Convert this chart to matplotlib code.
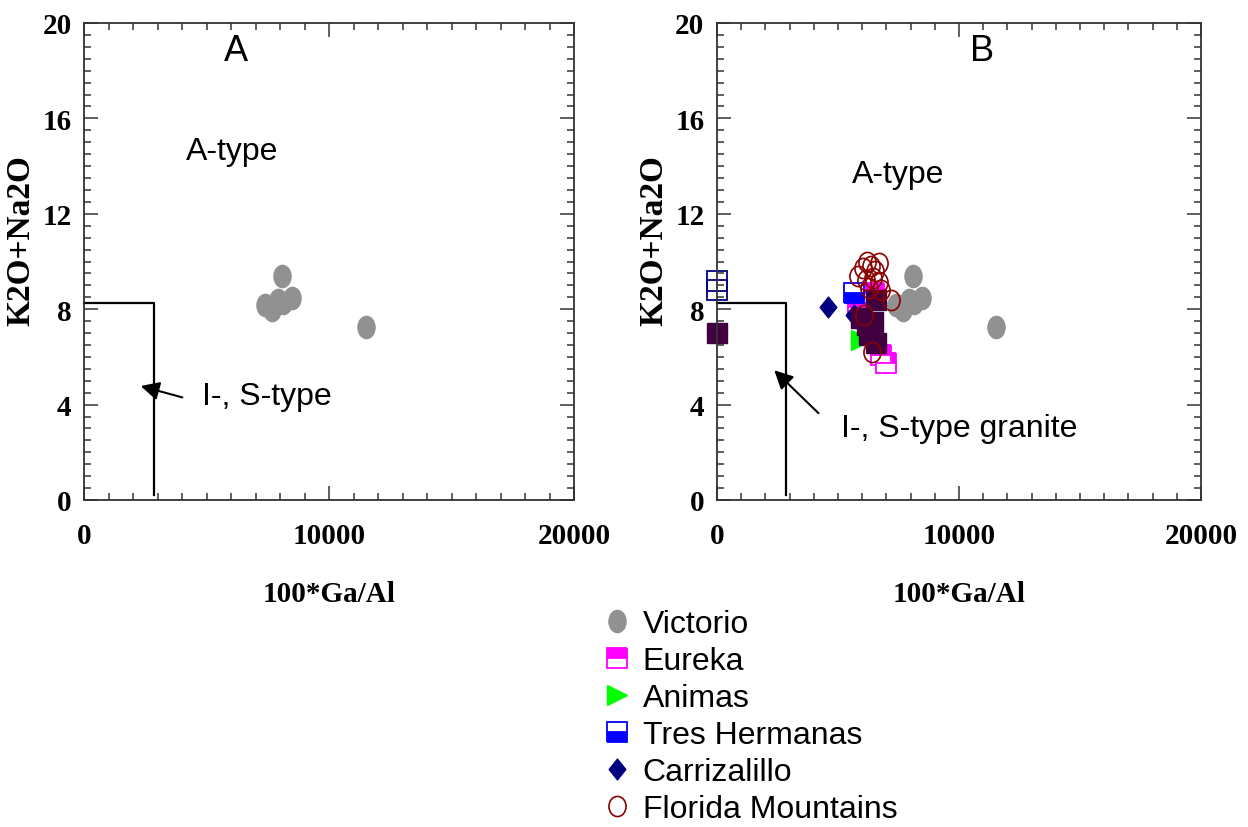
import numpy as np
import matplotlib
matplotlib.use('Agg')
import matplotlib.pyplot as plt
from matplotlib.path import Path
from matplotlib.transforms import Affine2D
from matplotlib.ticker import MultipleLocator

# --- data ------------------------------------------------------------------
victorio_x = [8082, 7388, 7674, 8490, 8123, 7919, 11510]
victorio_y = [9.41, 8.16, 7.95, 8.49, 8.24, 8.37, 7.24]

eureka_x = [6474, 5810, 6765, 6972]
eureka_y = [8.70, 8.08, 6.07, 5.73]

animas_x = [5935]
animas_y = [6.69]

tres_hermanas_x = [5644]
tres_hermanas_y = [8.66]

carrizalillo_x = [4607, 5644]
carrizalillo_y = [8.08, 7.74]

florida_x = [5810, 6018, 6184, 6350, 6516, 6682, 6142, 6433, 6682, 6267, 6765, 7180, 6059, 6391]
florida_y = [9.41, 9.71, 9.96, 9.83, 9.62, 9.92, 9.21, 9.29, 9.12, 8.87, 8.79, 8.37, 7.74, 6.19]

# points drawn without a legend entry
open_sq_x = [0, 0]
open_sq_y = [9.20, 8.79]
dark_sq_x = [6557, 5935, 6184, 6433, 6267, 6557, 0]
dark_sq_y = [8.37, 7.62, 7.32, 7.45, 6.90, 6.57, 7.00]

# I-, S-type boundary
boundary_x = [0, 2850, 2850]
boundary_y = [8.25, 8.25, 0.2]

SANS = 'Liberation Sans'
SERIF = 'Liberation Serif'

ellipse_v = Path.unit_circle().transformed(Affine2D().scale(0.77, 1.0))
ellipse_f = Path.unit_circle().transformed(Affine2D().scale(0.85, 1.0))
diamond = Path([(0, 1), (0.8, 0), (0, -1), (-0.8, 0), (0, 1)],
               [Path.MOVETO, Path.LINETO, Path.LINETO, Path.LINETO, Path.CLOSEPOLY])

fig = plt.figure(figsize=(12.48, 8.28), dpi=100)
ax_a = fig.add_axes([84 / 1248, 1 - 501 / 828, 490 / 1248, 477 / 828])
ax_b = fig.add_axes([717 / 1248, 1 - 501 / 828, 484 / 1248, 477 / 828])


def style_axes(ax):
    ax.set_xlim(0, 20000)
    ax.set_ylim(0, 20)
    ax.xaxis.set_major_locator(MultipleLocator(10000))
    ax.xaxis.set_minor_locator(MultipleLocator(1000))
    ax.yaxis.set_major_locator(MultipleLocator(4))
    ax.yaxis.set_minor_locator(MultipleLocator(0.5))
    ax.tick_params(which='both', direction='in', top=True, right=True, width=1.1, color='#333333')
    ax.tick_params(which='major', length=10)
    ax.tick_params(which='minor', length=5)
    ax.tick_params(axis='x', pad=16)
    ax.tick_params(axis='y', pad=9)
    for lab in ax.get_xticklabels() + ax.get_yticklabels():
        lab.set_fontfamily(SERIF)
        lab.set_fontweight('bold')
        lab.set_fontsize(21)
    for sp in ax.spines.values():
        sp.set_linewidth(1.3)
        sp.set_color('#333333')
    ax.set_xlabel('100*Ga/Al', fontfamily=SERIF, fontweight='bold', fontsize=21, labelpad=22)
    ax.set_ylabel('K2O+Na2O', fontfamily=SERIF, fontweight='bold', fontsize=24)
    ax.yaxis.set_label_coords(-0.098, 0.547)
    ax.plot(boundary_x, boundary_y, color='black', lw=1.6, clip_on=False)


def plot_victorio(ax, label=None):
    ax.plot(victorio_x, victorio_y, ls='none', marker=ellipse_v, ms=16, mfc='#919191',
            mec='#919191', label=label)


# --- panel A ---
style_axes(ax_a)
plot_victorio(ax_a)
ax_a.text(6204, 18.83, 'A', fontfamily=SANS, fontsize=26, ha='center', va='center')
ax_a.text(6041, 14.64, 'A-type', fontfamily=SANS, fontsize=23, ha='center', va='center')
ax_a.annotate('', xy=(2204, 4.81), xytext=(4123, 4.27),
              arrowprops=dict(arrowstyle='-|>', mutation_scale=28, color='black', lw=1.5))
ax_a.text(4817, 4.35, 'I-, S-type', fontfamily=SANS, fontsize=23, ha='left', va='center')

# --- panel B ---
style_axes(ax_b)
plot_victorio(ax_b, 'Victorio')
ax_b.plot(open_sq_x, open_sq_y, ls='none', marker='s', ms=14, mfc='none', mec='#000080', mew=1.3,
          clip_on=False)
ax_b.plot(eureka_x, eureka_y, ls='none', marker='s', ms=14, fillstyle='top', mfc='#FF00FF',
          mfcalt='white', mec='#FF00FF', mew=1.3, label='Eureka')
ax_b.plot(animas_x, animas_y, ls='none', marker='>', ms=15, mfc='#00FF00', mec='#00FF00',
          label='Animas')
ax_b.plot(tres_hermanas_x, tres_hermanas_y, ls='none', marker='s', ms=14, fillstyle='bottom',
          mfc='#0000FF', mfcalt='white', mec='#0000FF', mew=1.3, label='Tres Hermanas')
ax_b.plot(carrizalillo_x, carrizalillo_y, ls='none', marker=diamond, ms=15, mfc='#000080',
          mec='#000080', label='Carrizalillo')
ax_b.plot(dark_sq_x, dark_sq_y, ls='none', marker='s', ms=14, mfc='#400040', mec='#400040',
          clip_on=False)
ax_b.plot(florida_x, florida_y, ls='none', marker=ellipse_f, ms=14.5, mfc='none', mec='#8B0000',
          mew=1.2, label='Florida Mountains')
ax_b.text(10939, 18.83, 'B', fontfamily=SANS, fontsize=26, ha='center', va='center')
ax_b.text(7470, 13.68, 'A-type', fontfamily=SANS, fontsize=23, ha='center', va='center')
ax_b.annotate('', xy=(2283, 5.52), xytext=(4275, 3.56),
              arrowprops=dict(arrowstyle='-|>', mutation_scale=28, color='black', lw=1.5))
ax_b.text(5105, 3.01, 'I-, S-type granite', fontfamily=SANS, fontsize=23, ha='left', va='center')

handles, labels = ax_b.get_legend_handles_labels()
fig.legend(handles, labels, loc='upper left', bbox_to_anchor=(601 / 1248, 1 - 610 / 828),
           frameon=False, borderaxespad=0, borderpad=0, labelspacing=0.22, handlelength=1.0,
           handletextpad=0.3, numpoints=1, prop={'family': SANS, 'size': 23})

fig.savefig('out.png', dpi=100)
